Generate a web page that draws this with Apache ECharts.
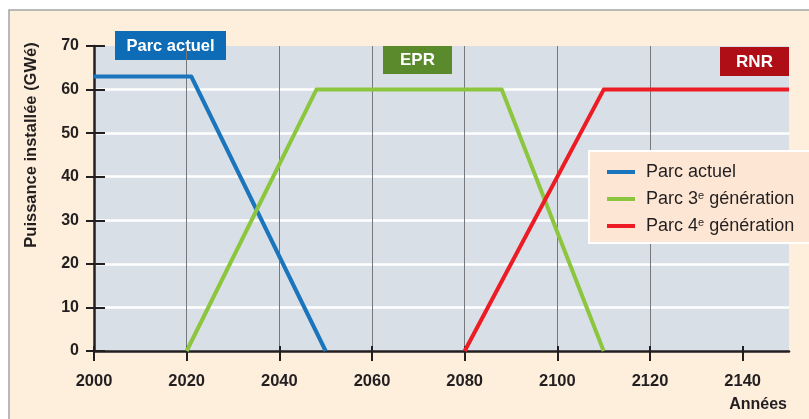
<!DOCTYPE html>
<html>
<head>
<meta charset="utf-8">
<script src="https://cdn.jsdelivr.net/npm/echarts@6/dist/echarts.min.js"></script>
<style>
  html, body { margin: 0; padding: 0; background: #ffffff; }
  #chart { width: 809px; height: 419px; }
</style>
</head>
<body>
<div id="chart"></div>
<script>
// Installed nuclear capacity (GWe) over time, by reactor generation
const seriesNames = ['Parc actuel', 'Parc 3e génération', 'Parc 4e génération'];
const parcActuel = [[2000, 63], [2021, 63], [2050, 0]];
const parc3eGen = [[2020, 0], [2048, 60], [2088, 60], [2110, 0]];
const parc4eGen = [[2080, 0], [2110, 60], [2150, 60]];
const yearTicks = [2000, 2020, 2040, 2060, 2080, 2100, 2120, 2140];
const yTicks = [0, 10, 20, 30, 40, 50, 60, 70];

const FONT = '"Liberation Sans", Arial, Helvetica, sans-serif';
const INK = '#231f20';
const colors = ['#1b75bc', '#8cc63f', '#ed1c24'];

const chart = echarts.init(document.getElementById('chart'));

const baseX = {
  type: 'value', min: 2000, max: 2150, interval: 20,
  axisLine: { show: true, onZero: false, lineStyle: { color: INK, width: 2.5 } },
  splitLine: { show: false }
};
const baseY = {
  type: 'value', min: 0, max: 70, interval: 10,
  axisLine: { show: true, onZero: false, lineStyle: { color: INK, width: 2.5 } },
  splitLine: { show: false }
};

chart.setOption({
  backgroundColor: '#fdefdc',
  animation: false,
  color: colors,
  grid: {
    left: 94, right: 20, top: 46, bottom: 68,
    show: true, backgroundColor: '#d9dfe6', borderWidth: 0
  },
  xAxis: [
    Object.assign({}, baseX, {
      position: 'bottom',
      axisTick: { show: true, length: 10, customValues: yearTicks, lineStyle: { color: INK, width: 2 } },
      axisLabel: {
        customValues: yearTicks, margin: 22, color: INK,
        fontFamily: FONT, fontWeight: 'bold', fontSize: 16.5,
        formatter: v => String(v)
      },
      splitLine: { show: true, showMinLine: false, showMaxLine: false, lineStyle: { color: '#77787b', width: 1 } }
    }),
    Object.assign({}, baseX, {
      position: 'bottom',
      axisLine: { show: false },
      axisTick: { show: true, inside: true, length: 5, customValues: yearTicks, lineStyle: { color: INK, width: 2 } },
      axisLabel: { show: false }
    })
  ],
  yAxis: [
    Object.assign({}, baseY, {
      position: 'left',
      axisTick: { show: true, length: 8, lineStyle: { color: INK, width: 2 } },
      axisLabel: {
        margin: 15, color: INK, fontFamily: FONT, fontWeight: 'bold', fontSize: 16,
        formatter: v => (yTicks.indexOf(v) >= 0 ? String(v) : '')
      },
      splitLine: { show: true, showMinLine: false, showMaxLine: false, lineStyle: { color: '#ffffff', width: 2.5 } }
    }),
    Object.assign({}, baseY, {
      position: 'left',
      axisLine: { show: false },
      axisTick: { show: true, inside: true, length: 11, lineStyle: { color: INK, width: 2 } },
      axisLabel: { show: false }
    })
  ],
  legend: {
    orient: 'vertical',
    left: 589, top: 151,
    backgroundColor: '#fde7d4',
    borderColor: '#ffffff', borderWidth: 2, borderRadius: 0,
    padding: [12, 16, 8, 18],
    icon: 'rect', itemWidth: 28, itemHeight: 4, itemGap: 9,
    data: seriesNames,
    formatter: name => name.replace(/(\d)e /, '$1{sup|e} '),
    textStyle: {
      color: INK, fontFamily: FONT, fontSize: 18, lineHeight: 18, padding: [0, 0, 0, 6],
      rich: {
        sup: { fontSize: 11, fontFamily: FONT, color: INK, verticalAlign: 'top', lineHeight: 18, padding: [0, 0, 7, 0] }
      }
    }
  },
  series: [
    { name: seriesNames[0], data: parcActuel },
    { name: seriesNames[1], data: parc3eGen },
    { name: seriesNames[2], data: parc4eGen }
  ].map((s, i) => ({
    type: 'line', name: s.name, data: s.data,
    showSymbol: false, symbol: 'none',
    lineStyle: { color: colors[i], width: 4, join: 'round', cap: 'butt' },
    z: 3
  })),
  graphic: [
    // outer frame: white margin with a thin grey rule
    { type: 'rect', shape: { x: 0, y: 0, width: 809, height: 9.5 }, style: { fill: '#ffffff' }, silent: true },
    { type: 'rect', shape: { x: 0, y: 0, width: 8.5, height: 419 }, style: { fill: '#ffffff' }, silent: true },
    { type: 'polyline', shape: { points: [[9, 419], [9, 10], [809, 10]] }, style: { stroke: '#a3a7ab', lineWidth: 1.5, fill: null }, silent: true },
    // axis titles
    {
      type: 'text', x: 31, y: 145, rotation: Math.PI / 2,
      style: { text: 'Puissance installée (GWé)', fill: INK, font: 'bold 16.5px ' + FONT, align: 'center', verticalAlign: 'middle' }
    },
    {
      type: 'text', x: 787, y: 405,
      style: { text: 'Années', fill: INK, font: 'bold 16px ' + FONT, align: 'right', verticalAlign: 'middle' }
    },
    // fleet tags
    {
      type: 'group', x: 115, y: 31, children: [
        { type: 'rect', shape: { width: 111, height: 29 }, style: { fill: '#0d6cb5' } },
        { type: 'text', x: 55.5, y: 15, style: { text: 'Parc actuel', fill: '#ffffff', font: 'bold 16.5px ' + FONT, align: 'center', verticalAlign: 'middle' } }
      ]
    },
    {
      type: 'group', x: 383, y: 46, children: [
        { type: 'rect', shape: { width: 69, height: 28 }, style: { fill: '#5a8a2b' } },
        { type: 'text', x: 34.5, y: 14.5, style: { text: 'EPR', fill: '#ffffff', font: 'bold 17px ' + FONT, align: 'center', verticalAlign: 'middle' } }
      ]
    },
    {
      type: 'group', x: 720, y: 47, children: [
        { type: 'rect', shape: { width: 69, height: 29 }, style: { fill: '#b00e17' } },
        { type: 'text', x: 34.5, y: 15, style: { text: 'RNR', fill: '#ffffff', font: 'bold 17px ' + FONT, align: 'center', verticalAlign: 'middle' } }
      ]
    }
  ]
});
</script>
</body>
</html>
